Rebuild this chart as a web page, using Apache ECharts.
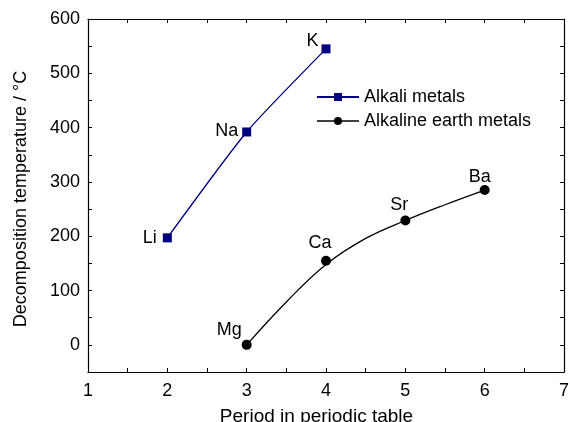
<!DOCTYPE html>
<html>
<head>
<meta charset="utf-8">
<script src="https://cdn.jsdelivr.net/npm/echarts@6/dist/echarts.min.js"></script>
<style>
  html, body { margin: 0; padding: 0; background: #fff; }
  #chart { width: 570px; height: 422px; }
</style>
</head>
<body>
<div id="chart"></div>
<script>
// data
var alkaliNames = ['Li', 'Na', 'K'];
var alkaliPeriod = [2, 3, 4];
var alkaliTemp = [197, 392, 545];

var earthNames = ['Mg', 'Ca', 'Sr', 'Ba'];
var earthPeriod = [3, 4, 5, 6];
var earthTemp = [0, 155, 229, 285];

// the fitted curve drawn through the alkaline earth points
var earthFitPeriod = [3, 3.5, 4, 4.5, 5, 5.5, 6];
var earthFitTemp = [0, 79, 148, 196, 229, 258, 285];

var FONT = '"Liberation Sans", Arial, sans-serif';

// where each point label sits
var labelPlace = {
  Li: { position: 'left', distance: 6, offset: [0, 0] },
  Na: { position: 'left', distance: 4, offset: [0, -1] },
  K:  { position: 'left', distance: 2, offset: [-1, -8] },
  Mg: { position: 'left', distance: 0, offset: [0, -15] },
  Ca: { position: 'top', distance: 4, offset: [-6, 0] },
  Sr: { position: 'top', distance: 4, offset: [-6, 3] },
  Ba: { position: 'top', distance: 2, offset: [-5, 3] }
};

function buildPoints(names, xs, ys) {
  var out = [];
  for (var i = 0; i < names.length; i++) {
    var p = labelPlace[names[i]];
    out.push({
      name: names[i],
      value: [xs[i], ys[i]],
      label: {
        show: true,
        formatter: names[i],
        position: p.position,
        distance: p.distance,
        offset: p.offset,
        color: '#000',
        fontFamily: FONT,
        fontSize: 18
      }
    });
  }
  return out;
}

function pairs(xs, ys) {
  return xs.map(function (x, i) { return [x, ys[i]]; });
}

var chart = echarts.init(document.getElementById('chart'), null, { renderer: 'canvas' });

var axisLine = { show: true, onZero: false, lineStyle: { color: '#000', width: 1.2 } };
var tickIn = { show: true, inside: true, length: 4, lineStyle: { color: '#000', width: 1 } };

var option = {
  animation: false,
  backgroundColor: '#fff',
  grid: { left: 88, right: 6, top: 19, bottom: 50, outerBoundsMode: 'none', containLabel: false },
  legend: {
    orient: 'vertical',
    left: 311,
    top: 83,
    itemWidth: 42,
    itemHeight: 10,
    itemGap: 6,
    textStyle: { fontFamily: FONT, fontSize: 18, color: '#000' },
    data: [
      { name: 'Alkali metals' },
      { name: 'Alkaline earth metals', lineStyle: { color: '#000', width: 1.3, opacity: 1 } }
    ]
  },
  xAxis: [{
    type: 'value',
    min: 1, max: 7, interval: 0.5,
    axisLine: axisLine,
    axisTick: tickIn,
    splitLine: { show: false },
    axisLabel: {
      margin: 10,
      color: '#000', fontFamily: FONT, fontSize: 18,
      formatter: function (v) { return v % 1 === 0 ? String(v) : ''; }
    },
    name: 'Period in periodic table',
    nameLocation: 'middle',
    nameGap: 35,
    nameTextStyle: { color: '#000', fontFamily: FONT, fontSize: 19, padding: [0, 19, 0, 0] }
  }, {
    type: 'value', position: 'top',
    min: 1, max: 7, interval: 0.5,
    axisLine: axisLine,
    axisTick: tickIn,
    axisLabel: { show: false },
    splitLine: { show: false }
  }],
  yAxis: [{
    type: 'value',
    min: -50, max: 600, interval: 50,
    axisLine: axisLine,
    axisTick: tickIn,
    splitLine: { show: false },
    axisLabel: {
      margin: 8,
      color: '#000', fontFamily: FONT, fontSize: 18,
      formatter: function (v) { return v % 100 === 0 ? String(v) : ''; }
    },
    name: 'Decomposition temperature / °C',
    nameLocation: 'middle',
    nameGap: 58,
    nameTextStyle: { color: '#000', fontFamily: FONT, fontSize: 18, padding: [0, 7, 0, 0] }
  }, {
    type: 'value', position: 'right',
    min: -50, max: 600, interval: 50,
    axisLine: axisLine,
    axisTick: tickIn,
    axisLabel: { show: false },
    splitLine: { show: false }
  }],
  series: [{
    name: 'Alkali metals',
    type: 'line',
    smooth: 0.2,
    symbol: 'rect',
    symbolSize: 9,
    itemStyle: { color: '#000080' },
    lineStyle: { color: '#000080', width: 1.3 },
    data: buildPoints(alkaliNames, alkaliPeriod, alkaliTemp)
  }, {
    name: 'earth fit',
    type: 'line',
    smooth: 0.4,
    symbol: 'none',
    silent: true,
    lineStyle: { color: '#000', width: 1.3 },
    data: pairs(earthFitPeriod, earthFitTemp),
    z: 1
  }, {
    name: 'Alkaline earth metals',
    type: 'line',
    symbol: 'circle',
    symbolSize: 10,
    itemStyle: { color: '#000' },
    lineStyle: { color: '#000', width: 1.3, opacity: 0 },
    data: buildPoints(earthNames, earthPeriod, earthTemp),
    z: 3
  }]
};

chart.setOption(option);
</script>
</body>
</html>
